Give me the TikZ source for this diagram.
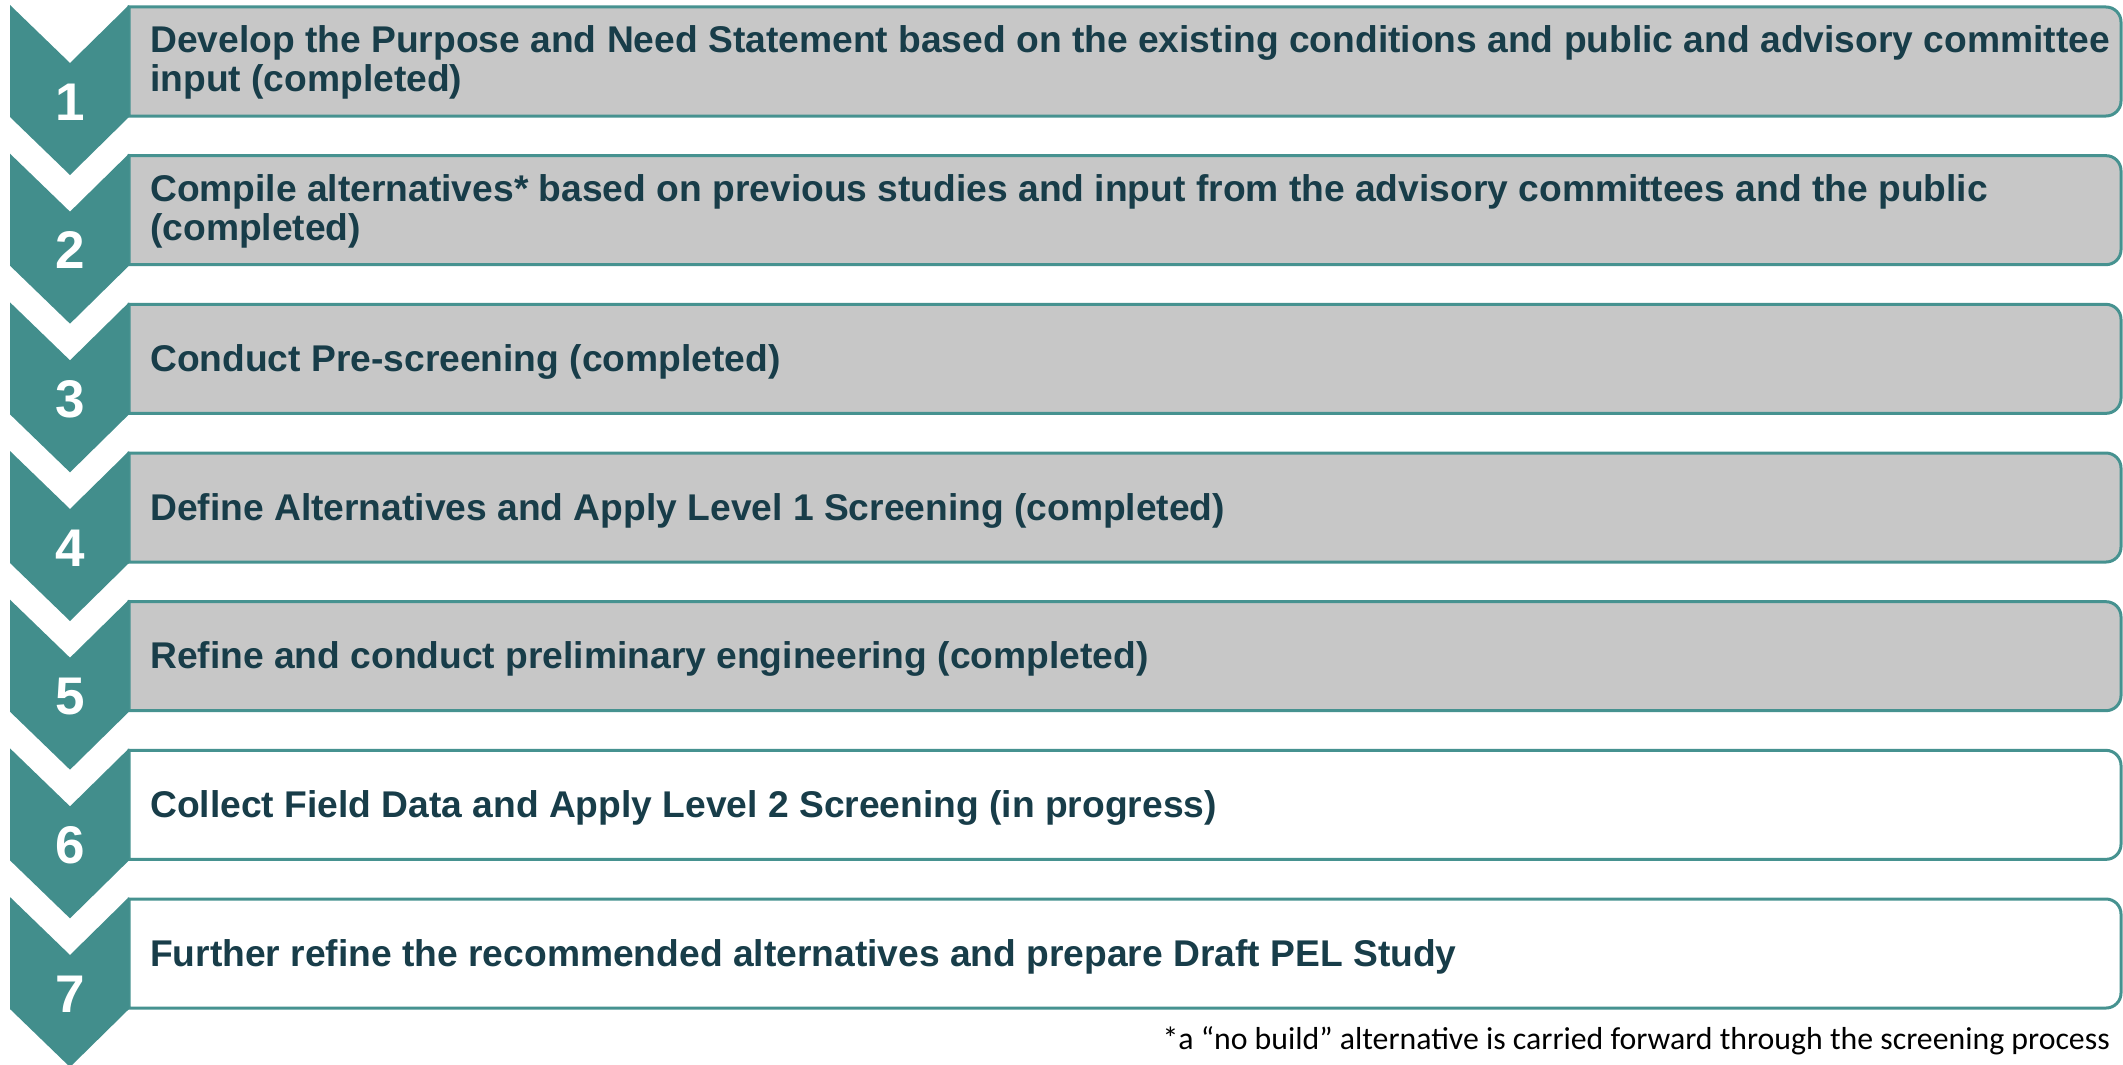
\documentclass[tikz,border=0pt]{standalone}
\usepackage{fontspec}
\setmainfont{Liberation Sans}
\newfontfamily\notefont{Carlito}
\definecolor{stepteal}{RGB}{66,142,140}
\definecolor{edgeteal}{RGB}{70,146,144}
\definecolor{donegray}{RGB}{199,199,199}
\definecolor{stepink}{RGB}{24,61,73}
\begin{document}
\begin{tikzpicture}[x=1pt,y=-1pt,
  chevron/.style={fill=stepteal},
  stepbox/.style={draw=edgeteal,line width=3pt},
  steptext/.style={anchor=base west,align=left,text=stepink,inner sep=0pt,
    font=\bfseries\fontsize{37.2}{39}\selectfont},
  stepnum/.style={anchor=base,text=white,inner sep=0pt,
    font=\bfseries\fontsize{53}{60}\selectfont},
  note/.style={anchor=base east,inner sep=0pt,
    font=\notefont\fontsize{31.8}{36}\selectfont}]
\useasboundingbox (0,0) rectangle (2123,1065);
% \base: offset of the last text baseline below the top of the step
\foreach \k/\fillc/\base/\txt in {
  1/donegray/87/{Develop the Purpose and Need Statement based on the existing conditions and public and advisory committee\\input (completed)},
  2/donegray/87/{Compile alternatives* based on previous studies and input from the advisory committees and the public\\(completed)},
  3/donegray/69/{Conduct Pre-screening (completed)},
  4/donegray/69/{Define Alternatives and Apply Level 1 Screening (completed)},
  5/donegray/69/{Refine and conduct preliminary engineering (completed)},
  6/white/69/{Collect Field Data and Apply Level 2 Screening (in progress)},
  7/white/69/{Further refine the recommended alternatives and prepare Draft PEL Study}} {
  \pgfmathsetmacro{\ytop}{5+148.67*(\k-1)}
  % step box with rounded right end
  \draw[stepbox, fill=\fillc] (129,\ytop+2) -- (2106,\ytop+2)
    arc[start angle=-90,end angle=0,radius=15] -- (2121,\ytop+96)
    arc[start angle=0,end angle=90,radius=15] -- (129,\ytop+111) -- cycle;
  % chevron marker
  \fill[chevron] (10,\ytop) -- (70,\ytop+58) -- (129,\ytop) -- (129,\ytop+112)
    -- (70,\ytop+170) -- (10,\ytop+112) -- cycle;
  \node[stepnum] (n\k) at (70,\ytop+115) {\k};
  \node[steptext] (s\k) at (150,\ytop+\base) {\txt};
}
\node[note] (footnote) at (2110,1049) {*a “no build” alternative is carried forward through the screening process};
\end{tikzpicture}
\end{document}
